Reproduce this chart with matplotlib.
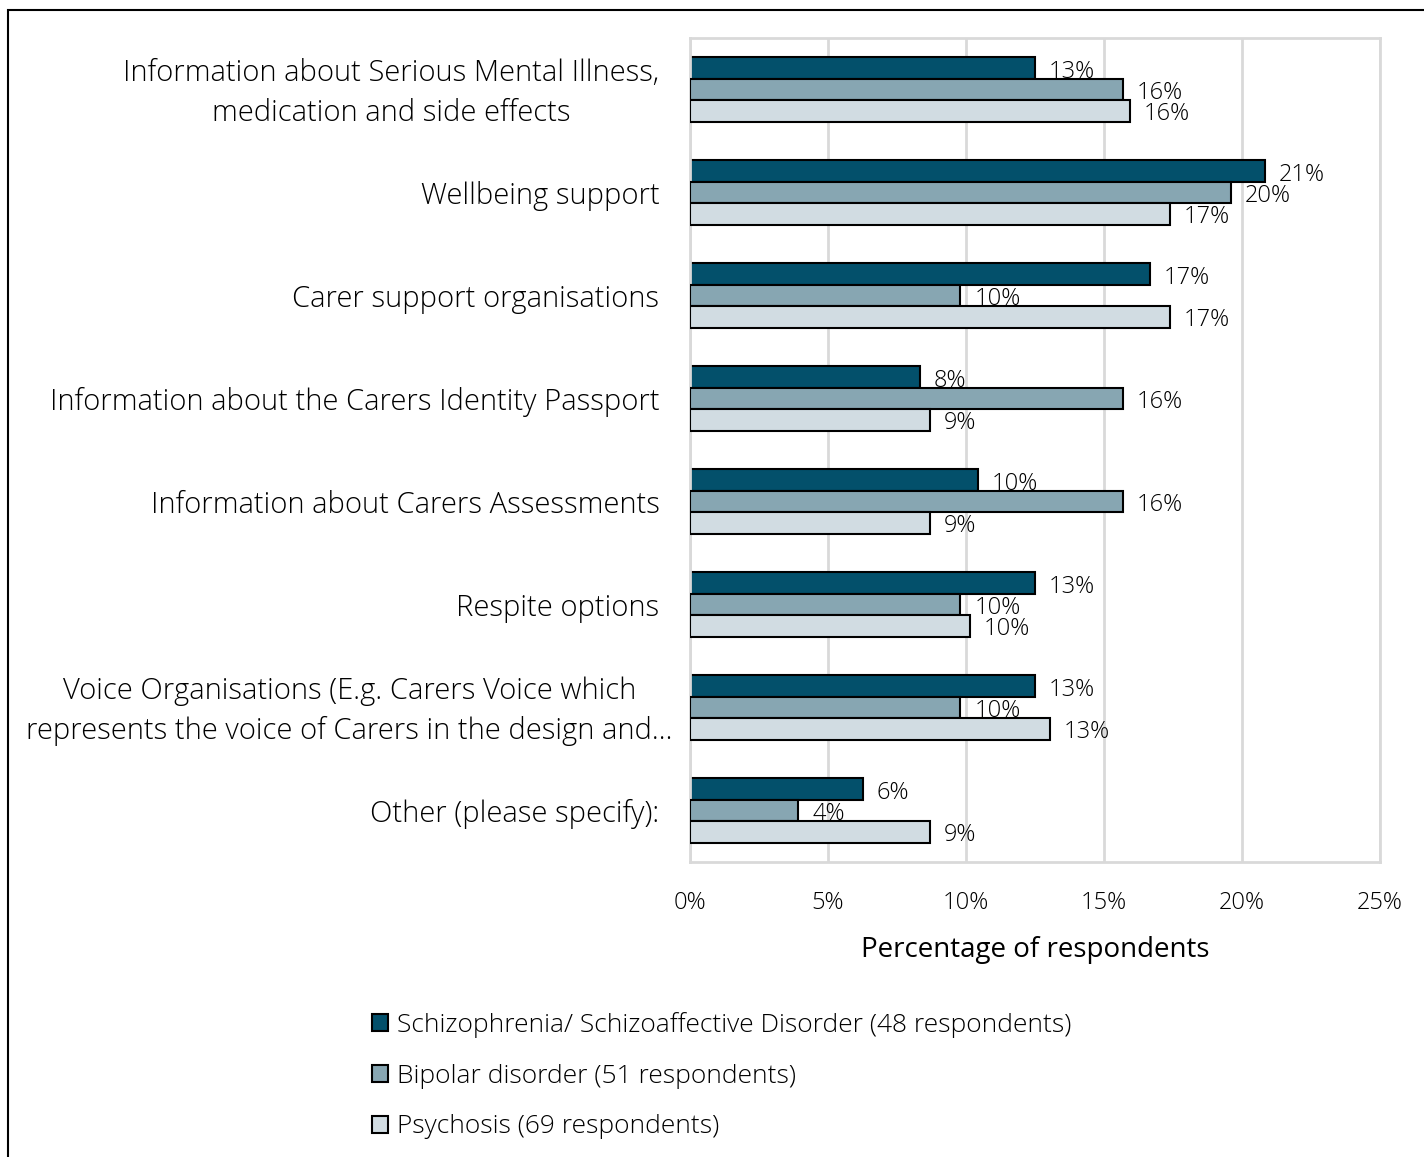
import numpy as np
import matplotlib.pyplot as plt
from matplotlib.patches import Patch, Rectangle
from matplotlib.transforms import ScaledTranslation

categories = [
    "Information about Serious Mental Illness,\nmedication and side effects",
    "Wellbeing support",
    "Carer support organisations",
    "Information about the Carers Identity Passport",
    "Information about Carers Assessments",
    "Respite options",
    "Voice Organisations (E.g. Carers Voice which\nrepresents the voice of Carers in the design and...",
    "Other (please specify):",
]
series_names = [
    "Schizophrenia/ Schizoaffective Disorder (48 respondents)",
    "Bipolar disorder (51 respondents)",
    "Psychosis (69 respondents)",
]
schizo = [12.5, 20.83, 16.67, 8.33, 10.42, 12.5, 12.5, 6.25]
bipolar = [15.69, 19.61, 9.80, 15.69, 15.69, 9.80, 9.80, 3.92]
psychosis = [15.94, 17.39, 17.39, 8.70, 8.70, 10.14, 13.04, 8.70]
xticks = [0, 5, 10, 15, 20, 25]

colors = ["#03506B", "#87A6B2", "#D1DCE2"]
grid_col = "#D9D9D9"

plt.rcParams['font.family'] = ['Open Sans', 'DejaVu Sans']
plt.rcParams['font.weight'] = 'light'

fig = plt.figure(figsize=(14.24, 11.57), dpi=100)
ax = fig.add_axes([690 / 1424, 1 - 862 / 1157, 690 / 1424, 824 / 1157])

y = np.arange(len(categories))
h = 0.208
for i, vals in enumerate([schizo, bipolar, psychosis]):
    pos = y + (i - 1) * h
    ax.barh(pos, vals, height=h, color=colors[i], edgecolor="black",
            linewidth=1.5, zorder=2 + 2 * i)
    for yy, v in zip(pos, vals):
        ax.annotate(f"{int(v + 0.5)}%", (v, yy), xytext=(10, -2.5),
                    textcoords="offset points", ha="left", va="center",
                    fontsize=17, color="black", zorder=3 + 2 * i)

ax.set_xlim(0, 25)
ax.set_ylim(len(categories) - 0.5, -0.5)
ax.set_xticks(xticks)
ax.set_xticklabels([f"{t}%" for t in xticks])
ax.set_yticks(y)
ax.set_yticklabels(categories, multialignment="center", linespacing=1.45,
                   fontsize=21)
ax.tick_params(axis="x", length=0, labelsize=17, pad=21)
ax.tick_params(axis="y", length=0, pad=22)
ax.grid(axis="x", color=grid_col, linewidth=2, zorder=0)
ax.set_axisbelow(True)
for s in ax.spines.values():
    s.set_color(grid_col)
    s.set_linewidth(2)

# two-line labels sit a bit higher; the long one sticks out towards the plot
for lbl in ax.get_yticklabels():
    if "\n" in lbl.get_text():
        dx = 13 if lbl.get_text().startswith("Voice") else 0
        lbl.set_transform(lbl.get_transform()
                          + ScaledTranslation(dx / 100, 5 / 100,
                                              fig.dpi_scale_trans))

ax.set_xlabel("Percentage of respondents", fontsize=20, fontweight="normal",
              labelpad=15)

handles = [Patch(facecolor=c, edgecolor="black", linewidth=1.5) for c in colors]
fig.legend(handles, series_names, loc="upper left",
           bbox_to_anchor=(348 / 1424, 1 - 988 / 1157), frameon=False,
           fontsize=19, handlelength=0.62, handleheight=0.62,
           handletextpad=0.35, labelspacing=0.98)

# outer frame of the figure
fig.patches.append(Rectangle((8 / 1424, -0.05), 1.1, 1 - 10 / 1157 + 0.05,
                             transform=fig.transFigure, fill=False,
                             edgecolor="black", linewidth=1.5))

fig.savefig("out.png", dpi=100)
